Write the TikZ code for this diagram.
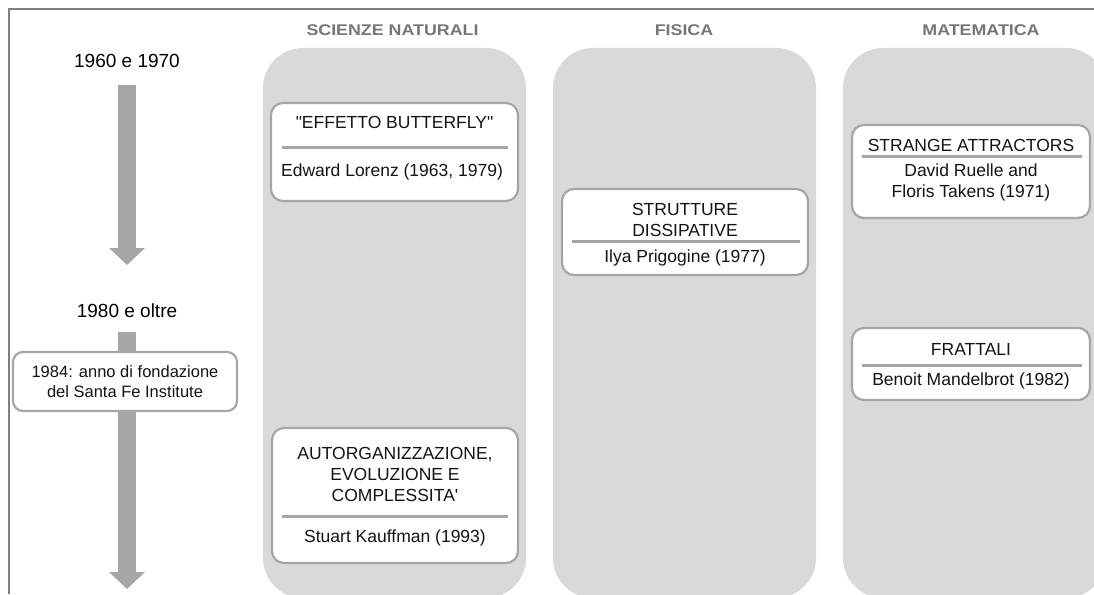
\documentclass[tikz,border=0pt]{standalone}
\usepackage{fontspec}
\setmainfont{Liberation Sans}
\newfontfamily\headfont{Liberation Sans}[FakeStretch=1.15]
\usetikzlibrary{arrows.meta}
\definecolor{colfill}{HTML}{D9D9D9}
\definecolor{cardline}{HTML}{A6A6A6}
\definecolor{headgray}{HTML}{767676}
\definecolor{framegray}{HTML}{7F7F7F}
\definecolor{arrowgray}{HTML}{A6A6A6}
\definecolor{inkblack}{HTML}{141414}

\begin{document}
\begin{tikzpicture}[x=1pt,y=-1pt,
  column/.style={fill=colfill, rounded corners=40pt, minimum width=263pt,
    minimum height=550pt, inner sep=0pt},
  header/.style={text=headgray, font=\headfont\fontsize{15.5}{18}\selectfont\bfseries, inner sep=0pt},
  period/.style={text=black, font=\fontsize{19}{22}\selectfont, inner sep=0pt},
  card/.style={draw=cardline, line width=2.2pt, fill=white, rounded corners=12pt, inner sep=0pt},
  cardtext/.style={text=inkblack, font=\fontsize{17.5}{21}\selectfont, align=center, inner sep=0pt},
  smalltext/.style={text=inkblack, font=\fontsize{16.5}{20}\selectfont, align=center, inner sep=0pt},
  divider/.style={draw=cardline, line width=3pt},
  timeline/.style={draw=arrowgray, line width=18pt,
    -{Triangle[width=35pt,length=17pt]}},
]
\useasboundingbox (0,0) rectangle (1094,594);
\clip (0,0) rectangle (1094,594);

% outer frame (top and left edges)
\draw[framegray, line width=2pt] (9,594) -- (9,9.5) -- (1094,9.5);

% discipline columns
\node[column] (colNat) at (394.5,323) {};
\node[column] (colFis) at (684.5,323) {};
\node[column] (colMat) at (974.5,323) {};

% column headers
\node[header] (hNat) at (392.5,30) {SCIENZE NATURALI};
\node[header] (hFis) at (684,30) {FISICA};
\node[header] (hMat) at (981,30) {MATEMATICA};

% time line
\node[period] (p60) at (127,61) {1960 e 1970};
\node[period] (p80) at (127,311) {1980 e oltre};
\coordinate (a1s) at (127,85);
\coordinate (a1e) at (127,265);
\coordinate (a2s) at (127,332);
\coordinate (a2e) at (127,589);
\draw[timeline] (a1s) -- (a1e);
\draw[timeline] (a2s) -- (a2e);
\node[card, rounded corners=10pt, minimum width=224pt, minimum height=59pt] (sfi) at (125,381.5) {};
\node[smalltext] (sfiT) at (125,382) {1984: anno di fondazione\\del Santa Fe Institute};

% Scienze naturali
\node[card, minimum width=247pt, minimum height=98pt] (bfly) at (394.5,152) {};
\node[cardtext] (bflyT) at (394.5,122) {\textquotedbl EFFETTO BUTTERFLY\textquotedbl};
\node[cardtext] (bflyA) at (392,172) {Edward Lorenz (1963, 1979)};
\draw[divider] (282,147) -- (508,147);

\node[card, minimum width=246pt, minimum height=135pt] (auto) at (395,495.5) {};
\node[cardtext] (autoT) at (395,474) {AUTORGANIZZAZIONE,\\EVOLUZIONE E\\COMPLESSITA\textquotesingle};
\draw[divider] (282,516) -- (508,516);
\node[cardtext] (autoA) at (395,538) {Stuart Kauffman (1993)};

% Fisica
\node[card, minimum width=246pt, minimum height=86pt] (diss) at (685,232) {};
\node[cardtext] (dissT) at (685,220) {STRUTTURE\\DISSIPATIVE};
\draw[divider] (572,241) -- (800,241);
\node[cardtext] (dissA) at (685,258) {Ilya Prigogine (1977)};

% Matematica
\node[card, minimum width=238pt, minimum height=93pt] (attr) at (971,171.5) {};
\node[cardtext] (attrT) at (971,145) {STRANGE ATTRACTORS};
\draw[divider] (862,156) -- (1082,156);
\node[cardtext] (attrA) at (971,182.5) {David Ruelle and\\Floris Takens (1971)};

\node[card, minimum width=238pt, minimum height=72pt] (frat) at (971,364) {};
\node[cardtext] (fratT) at (971,349) {FRATTALI};
\draw[divider] (862,365) -- (1082,365);
\node[cardtext] (fratA) at (971,381) {Benoit Mandelbrot (1982)};
\end{tikzpicture}
\end{document}
